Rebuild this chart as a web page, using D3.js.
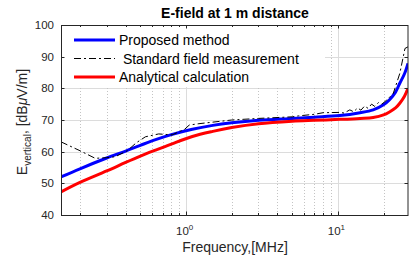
<!DOCTYPE html>
<html>
<head>
<meta charset="utf-8">
<script src="https://cdn.jsdelivr.net/npm/d3@7"></script>
<style>
  body { margin: 0; background: #fff; }
  svg text { font-family: "Liberation Sans", Arial, sans-serif; }
</style>
</head>
<body>
<svg id="chart" width="409" height="257"></svg>
<script>
// frequencies in MHz and field values in dBuV/m
var freqs = [0.15, 0.2, 0.3, 0.4, 0.5, 0.63, 0.8, 1.1, 1.5, 2, 3, 5, 7, 10.3, 14, 17.1, 20, 22, 24, 25.6, 27.5, 29];
var proposed = [52.0, 54.6, 58.0, 60.2, 62.0, 63.8, 65.4, 67.1, 68.3, 69.1, 69.9, 70.5, 70.9, 71.4, 72.3, 73.2, 74.8, 76.5, 78.8, 81.6, 84.6, 87.9];
var analytical = [47.3, 50.3, 53.9, 56.6, 58.6, 60.5, 62.4, 64.8, 66.4, 67.6, 68.8, 69.6, 69.9, 70.2, 70.5, 70.8, 71.6, 72.6, 73.8, 75.3, 77.5, 80.0];

var measFreqs = [0.15, 0.2, 0.252, 0.3, 0.342, 0.41, 0.47, 0.54, 0.66, 0.81, 0.92, 0.97, 1.05, 1.2, 2, 3, 5, 5.5, 7, 8, 10.3, 11, 12, 12.7, 13.5, 14.2, 15, 15.8, 16.7, 17.5, 18.5, 19.5, 21, 23.2, 25.6, 27.7, 29];
var measured = [63.1, 60.3, 57.9, 58.1, 58.4, 60.3, 62.8, 64.7, 65.6, 65.3, 66.5, 66.9, 68.4, 68.8, 70.0, 70.5, 71.0, 71.3, 71.8, 72.3, 72.4, 72.2, 73.2, 72.6, 73.8, 73.1, 74.4, 73.7, 75.0, 74.3, 75.5, 75.0, 76.3, 78.4, 84.7, 92.6, 93.1];

var yTicks = [40, 50, 60, 70, 80, 90, 100];
var xMajor = [1, 10];
var xMinor = [0.2, 0.3, 0.4, 0.5, 0.6, 0.7, 0.8, 0.9, 2, 3, 4, 5, 6, 7, 8, 9, 20];

var legendItems = [
  { name: "Proposed method", color: "#0000ff", w: 3, dash: null },
  { name: " Standard field measurement", color: "#000", w: 1, dash: "7,3,2,3" },
  { name: "Analytical calculation", color: "#ff0000", w: 3, dash: null }
];

var pL = 61, pR = 408, pT = 25, pB = 215;
var axisColor = "#262626";

var svg = d3.select("#chart");
var x = d3.scaleLog().domain([0.15, 29]).range([pL, pR]);
var y = d3.scaleLinear().domain([40, 100]).range([pB, pT]);

// grid
var grid = svg.append("g");
grid.selectAll(".ym").data(yTicks.slice(1, -1)).enter().append("line")
  .attr("x1", pL).attr("x2", pR)
  .attr("y1", d => Math.round(y(d)) + 0.5).attr("y2", d => Math.round(y(d)) + 0.5)
  .attr("stroke", "#dcdcdc").attr("stroke-width", 1);
grid.selectAll(".xm").data(xMajor).enter().append("line")
  .attr("x1", d => Math.round(x(d)) + 0.5).attr("x2", d => Math.round(x(d)) + 0.5)
  .attr("y1", pT).attr("y2", pB)
  .attr("stroke", "#dcdcdc").attr("stroke-width", 1);
grid.selectAll(".xn").data(xMinor).enter().append("line")
  .attr("x1", d => Math.round(x(d)) + 0.5).attr("x2", d => Math.round(x(d)) + 0.5)
  .attr("y1", pT).attr("y2", pB)
  .attr("stroke", "#c4c4c4").attr("stroke-width", 1).attr("stroke-dasharray", "1,2");

// legend background (covers grid)
svg.append("rect").attr("x", pL + 1).attr("y", pT + 1)
  .attr("width", 263).attr("height", 61).attr("fill", "#fff");

// data lines
svg.append("clipPath").attr("id", "clip").append("rect")
  .attr("x", pL).attr("y", pT).attr("width", pR - pL).attr("height", pB - pT);
var plot = svg.append("g").attr("clip-path", "url(#clip)");

var smooth = d3.line().x(d => x(d[0])).y(d => y(d[1])).curve(d3.curveCatmullRom.alpha(0.5));
var straight = d3.line().x(d => x(d[0])).y(d => y(d[1]));

plot.append("path").datum(d3.zip(freqs, proposed)).attr("d", smooth)
  .attr("fill", "none").attr("stroke", "#0000ff").attr("stroke-width", 3);
plot.append("path").datum(d3.zip(measFreqs, measured)).attr("d", straight)
  .attr("fill", "none").attr("stroke", "#000").attr("stroke-width", 1)
  .attr("stroke-dasharray", "7,3,2,3");
plot.append("path").datum(d3.zip(freqs, analytical)).attr("d", smooth)
  .attr("fill", "none").attr("stroke", "#ff0000").attr("stroke-width", 3);

// axes box and ticks
var ax = svg.append("g").attr("stroke", axisColor).attr("fill", "none");
ax.append("rect").attr("x", pL + 0.5).attr("y", pT + 0.5)
  .attr("width", pR - pL - 0.5).attr("height", pB - pT).attr("stroke-width", 1);
yTicks.forEach(function(t) {
  var yy = Math.round(y(t)) + 0.5;
  ax.append("line").attr("x1", pL).attr("x2", pL + 3.5).attr("y1", yy).attr("y2", yy);
  ax.append("line").attr("x1", pR - 3.5).attr("x2", pR).attr("y1", yy).attr("y2", yy);
});
xMajor.concat(xMinor).forEach(function(t) {
  var xx = Math.round(x(t)) + 0.5;
  var len = xMajor.indexOf(t) >= 0 ? 3.5 : 2;
  ax.append("line").attr("x1", xx).attr("x2", xx).attr("y1", pB).attr("y2", pB - len);
  ax.append("line").attr("x1", xx).attr("x2", xx).attr("y1", pT).attr("y2", pT + len);
});

// tick labels
svg.selectAll(".yl").data(yTicks).enter().append("text")
  .attr("x", 54).attr("y", d => y(d) + 4)
  .attr("text-anchor", "end").attr("font-size", 11.5).attr("fill", axisColor)
  .text(d => d);
xMajor.forEach(function(t) {
  var txt = svg.append("text").attr("x", x(t) - 10).attr("y", 235)
    .attr("font-size", 11.5).attr("fill", axisColor);
  txt.append("tspan").text("10");
  txt.append("tspan").attr("dy", -5).attr("font-size", 8).text(Math.round(Math.log10(t)));
});

// titles
svg.append("text").attr("x", 235).attr("y", 18).attr("text-anchor", "middle")
  .attr("font-size", 14).attr("font-weight", "bold").attr("fill", "#000")
  .text("E-field at 1 m distance");
svg.append("text").attr("x", 235).attr("y", 252).attr("text-anchor", "middle")
  .attr("font-size", 14).attr("fill", axisColor)
  .text("Frequency,[MHz]");

var yl = svg.append("text").attr("transform", "translate(27,122) rotate(-90)")
  .attr("text-anchor", "middle").attr("font-size", 14).attr("fill", axisColor);
yl.append("tspan").text("E");
yl.append("tspan").attr("dy", 4).attr("font-size", 10).text("vertical");
yl.append("tspan").attr("dy", -4).text(", [dB");
yl.append("tspan").attr("font-style", "italic").text("\u03bc");
yl.append("tspan").text("V/m]");

// legend
var lg = svg.append("g");
legendItems.forEach(function(it, i) {
  var yy = 40 + i * 18.5;
  lg.append("line").attr("x1", 74).attr("x2", 115).attr("y1", yy).attr("y2", yy)
    .attr("stroke", it.color).attr("stroke-width", it.w)
    .attr("stroke-dasharray", it.dash);
  lg.append("text").attr("x", 119).attr("y", yy + 5)
    .attr("font-size", 14).attr("fill", "#000")
    .attr("xml:space", "preserve").style("white-space", "pre")
    .text(it.name);
});
</script>
</body>
</html>
